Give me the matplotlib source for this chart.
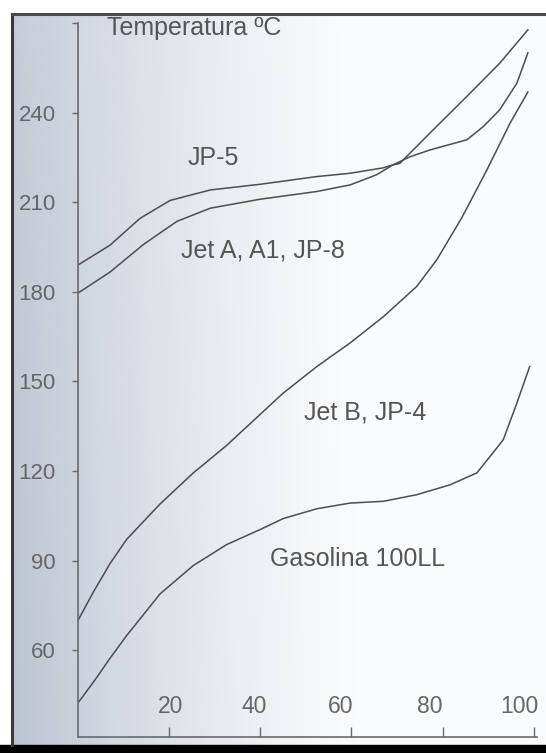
import numpy as np
import matplotlib
matplotlib.use("Agg")
import matplotlib.pyplot as plt
import matplotlib.transforms as mtrans

plt.rcParams['font.family'] = ['Liberation Sans', 'DejaVu Sans']

# distillation curves: % evaporated vs temperature (ºC)
jp5_x = [0, 7.0, 13.6, 20.2, 29.0, 39.9, 52.4, 59.7, 66.9, 69.1, 72.8, 77.2, 85.3, 88.9, 92.5, 96.3, 98.7]
jp5_y = [189, 195.6, 204.6, 210.6, 214.1, 216, 218.6, 219.7, 221.5, 222.5, 225.2, 227.5, 230.9, 235.3, 240.9, 249.9, 260]

jeta_x = [0, 7.0, 14.3, 21.7, 29.0, 39.9, 52.4, 59.7, 65.5, 69.1, 70.6, 77.9, 85.3, 92.5, 98.7]
jeta_y = [179.6, 186.6, 195.8, 203.6, 208, 211, 213.6, 215.8, 219.2, 222.5, 223, 234.2, 245.4, 256.5, 267.7]

jetb_x = [0, 3.4, 7.0, 10.7, 18.0, 25.3, 32.6, 39.9, 45.0, 52.4, 59.7, 67.0, 74.3, 78.7, 84.2, 89.7, 94.8, 98.7]
jetb_y = [70, 79.6, 89.0, 97.2, 109.0, 119.4, 128.6, 138.9, 146.1, 155, 162.9, 171.7, 181.8, 190.7, 204.8, 220.8, 236.5, 246.9]

gas_x = [0, 3.4, 7.0, 10.7, 18.0, 25.3, 32.6, 39.9, 45.0, 52.4, 59.7, 67.0, 74.3, 81.6, 87.5, 90.4, 93.3, 96.1, 99.1]
gas_y = [42.4, 49.4, 57.3, 65.0, 78.9, 88.4, 95.4, 100.4, 104.1, 107.4, 109.3, 109.9, 112.1, 115.4, 119.4, 124.9, 130.5, 142, 155]

series = [
    (jp5_x, jp5_y, 'JP-5', 29.6, 224.8),
    (jeta_x, jeta_y, 'Jet A, A1, JP-8', 40.6, 194),
    (jetb_x, jetb_y, 'Jet B, JP-4', 63, 139.5),
    (gas_x, gas_y, 'Gasolina 100LL', 61.4, 90.6),
]

xticks = [20, 40, 60, 80, 100]
yticks = [60, 90, 120, 150, 180, 210, 240]

W, H = 546, 753
fig = plt.figure(figsize=(W / 100, H / 100), dpi=100)

# scanned-page look: grey-blue shading on the left, dark frame
bg = fig.add_axes([0, 0, 1, 1])
bg.set_xlim(0, W)
bg.set_ylim(H, 0)
bg.axis('off')
xx = np.linspace(0, 1, 300)
yy = np.linspace(0, 1, 200)
gx, gy = np.meshgrid(xx, yy)
t = np.clip(1 - gx / 0.65, 0, 1) ** 1.3 * (0.85 + 0.15 * gy)
grey = np.array([0.74, 0.77, 0.82])
white = np.array([0.98, 0.985, 0.99])
img = white[None, None, :] * (1 - t[..., None]) + grey[None, None, :] * t[..., None]
bg.imshow(img, extent=[12, W, 745, 14], aspect='auto', interpolation='bilinear')
bg.plot([12, 12], [14, 745], color='#3a3a3a', lw=2.2)
bg.plot([12, W], [14, 14], color='#4a4a4a', lw=2.2)
bg.fill_between([0, W], 745, H, color='black')

ax = fig.add_axes([78 / W, 1 - 737 / H, (537 - 78) / W, (737 - 23) / H])
ax.patch.set_alpha(0)
for xs, ys, name, lx, ly in series:
    ax.plot(xs, ys, color='#4d4d4d', lw=1.1, solid_joinstyle='round')
    ax.text(lx, ly, name, fontsize=18, color='#555555', ha='center', va='center')

ax.text(25.4, 268.3, 'Temperatura ºC', fontsize=18, color='#555555', ha='center', va='center')

ax.set_xlim(0, 100.7)
ax.set_ylim(31, 270)
for s in ['top', 'right']:
    ax.spines[s].set_visible(False)
for s in ['left', 'bottom']:
    ax.spines[s].set_color('#6a6a6a')
    ax.spines[s].set_linewidth(1.2)

ax.set_xticks(xticks)
ax.set_xticklabels([str(v) for v in xticks])
ax.set_yticks(yticks + [270])
ax.set_yticklabels([str(v) for v in yticks] + [''])
ax.tick_params(axis='x', direction='in', length=7, width=1, color='#6a6a6a',
               labelsize=16.5, labelcolor='#666666', pad=-30)
ax.tick_params(axis='y', direction='out', length=4, width=1, color='#6a6a6a',
               labelsize=16, labelcolor='#666666', pad=12)

# the scanned x labels drift left of their ticks towards the right
for lab, dx in zip(ax.get_xticklabels(), [1, -6, -11, -13, -14]):
    lab.set_transform(lab.get_transform() + mtrans.ScaledTranslation(dx / 100, 0, fig.dpi_scale_trans))

fig.savefig('out.png', dpi=100)
